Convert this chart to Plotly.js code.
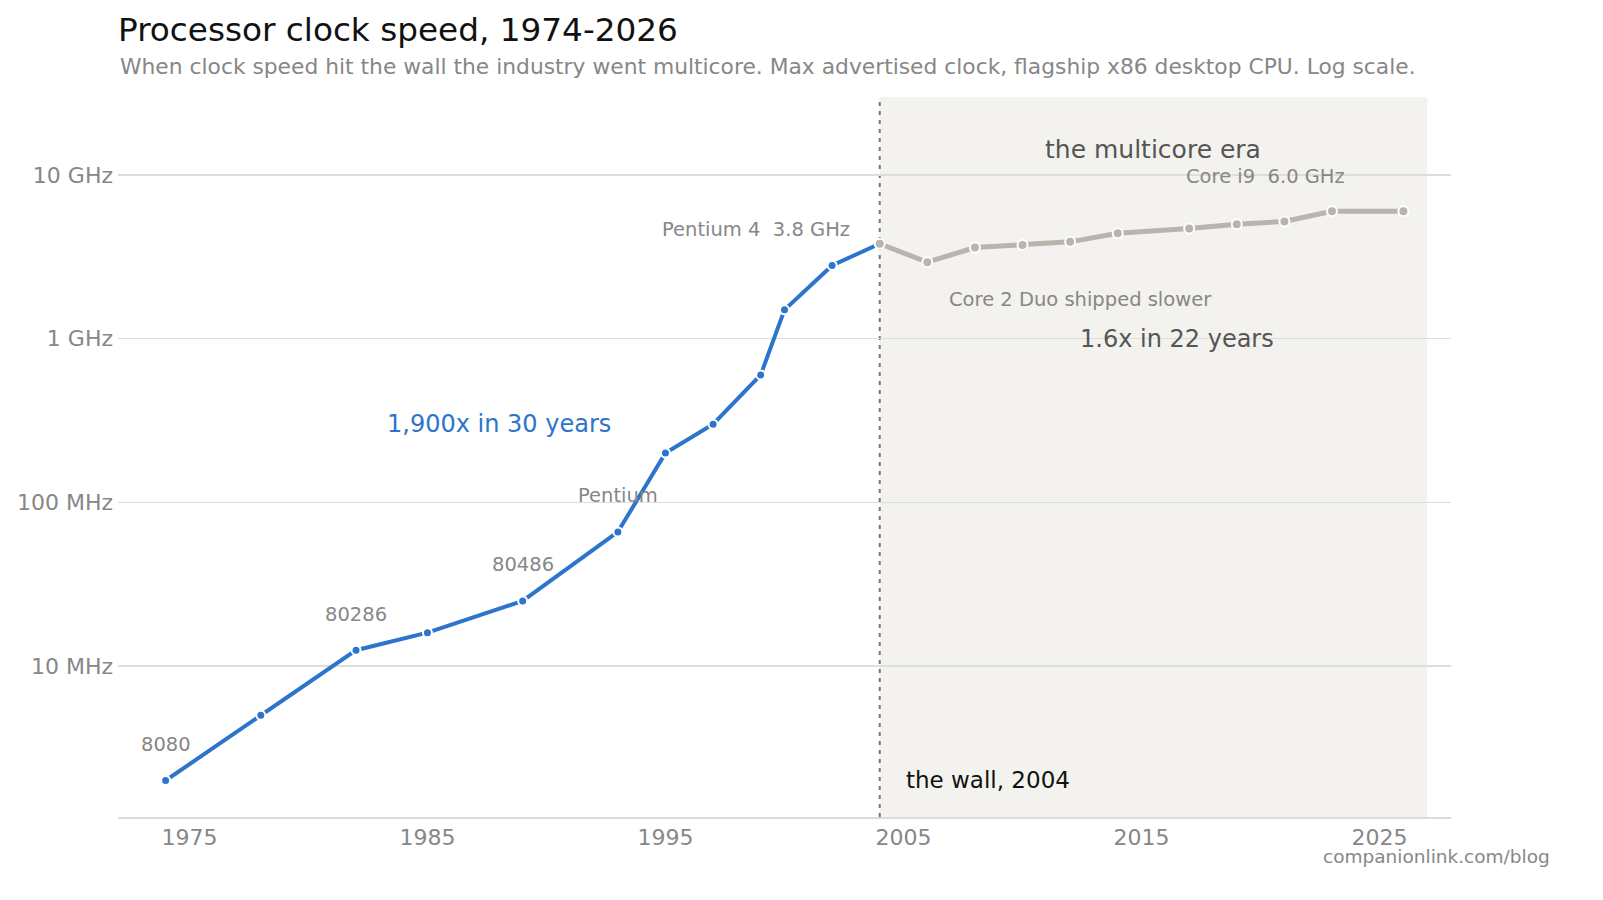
<!DOCTYPE html>
<html>
<head>
<meta charset="utf-8">
<script src="https://cdn.plot.ly/plotly-3.0.1.min.js"></script>
<style>
  html, body { margin: 0; padding: 0; background: #ffffff; }
  #chart { width: 1603px; height: 900px; }
</style>
</head>
<body>
<div id="chart"></div>
<script>
// ---- data ----
const yearsSingle = [1974, 1978, 1982, 1985, 1989, 1993, 1995, 1997, 1999, 2000, 2002, 2004];
const mhzSingle   = [2, 5, 12.5, 16, 25, 66, 200, 300, 600, 1500, 2800, 3800];
const yearsMulti  = [2004, 2006, 2008, 2010, 2012, 2014, 2017, 2019, 2021, 2023, 2026];
const mhzMulti    = [3800, 2930, 3600, 3730, 3900, 4400, 4700, 5000, 5200, 6000, 6000];

const chipLabels     = ["8080", "80286", "80486", "Pentium"];
const chipLabelYears = [1974, 1982, 1989, 1993];

const yTickVals = [10, 100, 1000, 10000];
const yTickText = ["10 MHz", "100 MHz", "1 GHz", "10 GHz"];
const xTickVals = [1975, 1985, 1995, 2005, 2015, 2025];
const xTickText = ["1975", "1985", "1995", "2005", "2015", "2025"];

const wallYear = 2004;
const eraEnd = 2027;

// ---- styles ----
const FONT = "DejaVu Sans, Liberation Sans, sans-serif";
const BLUE = "#2d75cc";
const GRAYLINE = "#b7b5ac";
const LABEL = "#878787";
const DARK = "#555555";

const valAt = (years, vals, yr) => vals[years.indexOf(yr)];

const traces = [
  {
    x: yearsSingle, y: mhzSingle, type: "scatter", mode: "lines+markers",
    line: { color: BLUE, width: 4 },
    marker: { color: BLUE, size: 9, line: { color: "#ffffff", width: 2 } },
    hoverinfo: "skip", showlegend: false
  },
  {
    x: yearsMulti, y: mhzMulti, type: "scatter", mode: "lines+markers",
    line: { color: GRAYLINE, width: 5 },
    marker: { color: GRAYLINE, size: 10, line: { color: "#ffffff", width: 2 } },
    hoverinfo: "skip", showlegend: false
  }
];

const annotations = [];
chipLabels.forEach((t, i) => {
  const yr = chipLabelYears[i];
  annotations.push({
    x: yr, y: Math.log10(valAt(yearsSingle, mhzSingle, yr)),
    xref: "x", yref: "y", text: t, showarrow: false,
    yshift: 36, font: { family: FONT, size: 19.5, color: LABEL }
  });
});
annotations.push({
  x: 2004, y: Math.log10(valAt(yearsSingle, mhzSingle, 2004)),
  xref: "x", yref: "y", text: "Pentium 4\u00a0 3.8 GHz", showarrow: false,
  xanchor: "right", xshift: -28, yshift: 14,
  font: { family: FONT, size: 19.5, color: LABEL }
});
annotations.push({
  x: 2006, y: Math.log10(valAt(yearsMulti, mhzMulti, 2006)),
  xref: "x", yref: "y", text: "Core 2 Duo shipped slower", showarrow: false,
  xanchor: "left", xshift: 20, yshift: -37,
  font: { family: FONT, size: 19.5, color: LABEL }
});
annotations.push({
  x: 2023, y: Math.log10(valAt(yearsMulti, mhzMulti, 2023)),
  xref: "x", yref: "y", text: "Core i9\u00a0 6.0 GHz", showarrow: false,
  xanchor: "center", xshift: -66, yshift: 35,
  font: { family: FONT, size: 19.5, color: LABEL }
});
annotations.push({
  x: 2015.46, y: 4.153, xref: "x", yref: "y", text: "the multicore era",
  showarrow: false, font: { family: FONT, size: 25, color: DARK }
});
annotations.push({
  x: 2016.47, y: 3.0, xref: "x", yref: "y", text: "1.6x in 22 years",
  showarrow: false, font: { family: FONT, size: 24, color: DARK }
});
annotations.push({
  x: 1988.0, y: 2.481, xref: "x", yref: "y", text: "1,900x in 30 years",
  showarrow: false, font: { family: FONT, size: 24, color: BLUE }
});
annotations.push({
  x: 2005, y: Math.log10(2), xref: "x", yref: "y", text: "the wall, 2004",
  showarrow: false, xanchor: "left", font: { family: FONT, size: 23, color: "#111111" }
});
annotations.push({
  x: 0, y: 1.043, xref: "paper", yref: "paper", xanchor: "left", yanchor: "middle",
  text: "When clock speed hit the wall the industry went multicore. Max advertised clock, flagship x86 desktop CPU. Log scale.",
  showarrow: false, font: { family: FONT, size: 21.8, color: LABEL }
});
annotations.push({
  x: 1.0758, y: -0.0555, xref: "paper", yref: "paper", xanchor: "right", yanchor: "middle",
  text: "companionlink.com/blog", showarrow: false,
  font: { family: FONT, size: 18.5, color: LABEL }
});

const layout = {
  width: 1603, height: 900,
  margin: { l: 118, r: 152, t: 97, b: 83 },
  paper_bgcolor: "#ffffff", plot_bgcolor: "#ffffff",
  title: {
    text: "Processor clock speed, 1974-2026",
    x: 118 / 1603, xref: "container", xanchor: "left",
    y: 1 - 30 / 900, yref: "container", yanchor: "middle",
    font: { family: FONT, size: 32.7, color: "#111111" }
  },
  xaxis: {
    range: [1972, 2028], tickvals: xTickVals, ticktext: xTickText,
    showgrid: false, zeroline: false, showline: true, linecolor: "#dcdcd6", linewidth: 2,
    ticks: "", tickfont: { family: FONT, size: 22, color: LABEL }, fixedrange: true
  },
  yaxis: {
    type: "log", range: [0.078, 4.476], tickvals: yTickVals, ticktext: yTickText,
    showgrid: true, gridcolor: "#deded9", gridwidth: 1.5, zeroline: false, showline: false,
    ticks: "", ticklabelstandoff: 4,
    tickfont: { family: FONT, size: 22, color: LABEL }, fixedrange: true
  },
  shapes: [
    {
      type: "rect", xref: "x", yref: "paper", x0: wallYear, x1: eraEnd, y0: 0, y1: 1,
      fillcolor: "#f3f2ee", line: { width: 0 }, layer: "below"
    },
    {
      type: "line", xref: "x", yref: "paper", x0: wallYear, x1: wallYear, y0: 0, y1: 1,
      line: { color: "#777777", width: 2, dash: "4px,5px" }, layer: "between"
    }
  ],
  annotations: annotations,
  showlegend: false
};

Plotly.newPlot("chart", traces, layout, { displayModeBar: false, staticPlot: true });
</script>
</body>
</html>
